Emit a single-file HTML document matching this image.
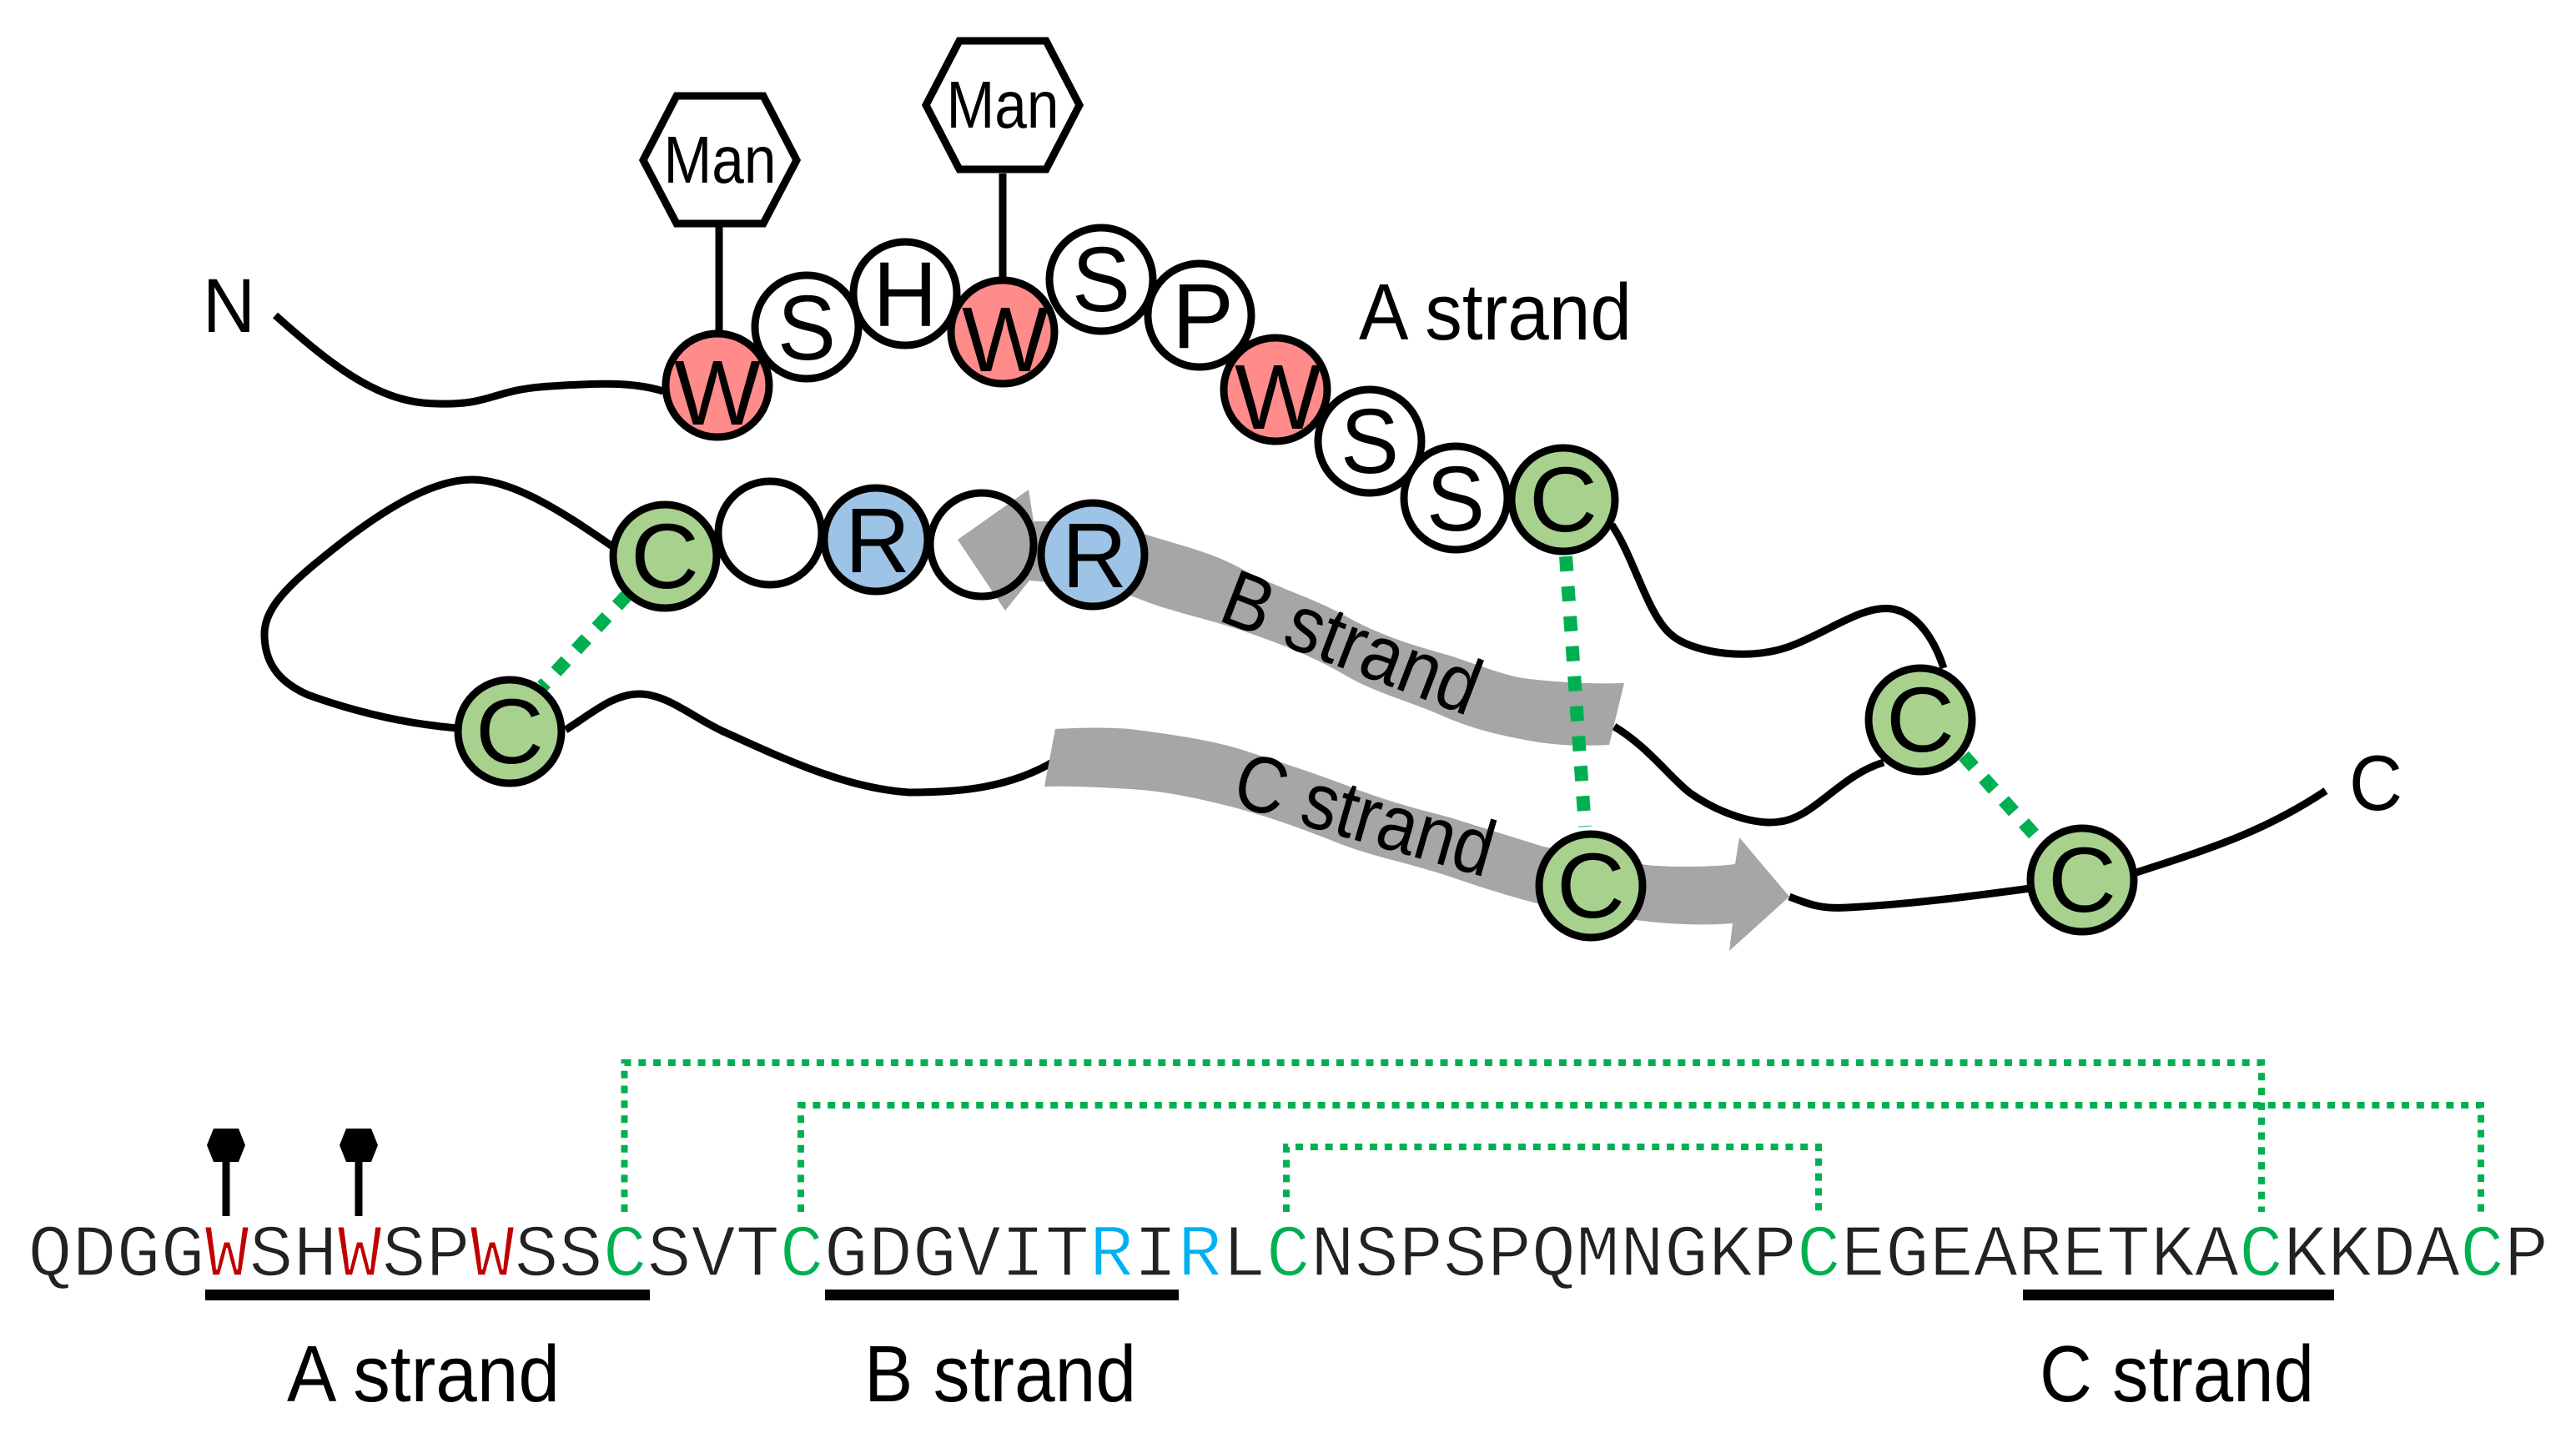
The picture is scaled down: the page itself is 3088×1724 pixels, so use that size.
<!DOCTYPE html>
<html><head><meta charset="utf-8"><style>
html,body{margin:0;padding:0;background:#fff}
svg{display:block}
text{font-family:"Liberation Sans",Arial,sans-serif;fill:#000}
.l{font-size:110px;text-anchor:middle}
.t{font-size:96px}
.seq{font-family:"Liberation Mono","Courier New",monospace;font-size:88.33px;fill:#222;stroke:#fff;stroke-width:1.6px}
</style></head><body>
<svg width="3088" height="1724" viewBox="0 0 3088 1724" xmlns="http://www.w3.org/2000/svg">
<rect width="3088" height="1724" fill="#fff"/>
<!-- backbone -->
<g fill="none" stroke="#000" stroke-width="9">
<path d="M330 378 C400 440 455 484 525 484 C590 486 590 467 660 463 C720 459 760 458 795 469"/>
<path d="M734 655 C690 625 620 575 566 575 C510 575 440 625 385 670 C335 710 317 735 317 760 C317 800 340 820 369 833 C430 855 490 868 548 873"/>
<path d="M678 875 C710 855 735 832 766 832 C800 832 830 860 867 877 C930 905 1010 945 1090 950 C1150 950 1210 945 1265 912"/>
<path d="M1932 629 C1960 670 1975 740 2006 763 C2030 782 2100 795 2153 772 C2195 755 2235 725 2268 730 C2300 735 2320 770 2330 801"/>
<path d="M1935 871 C1975 895 2000 930 2025 950 C2060 975 2105 990 2134 985 C2175 980 2205 930 2258 914"/>
<path d="M2145 1075 C2170 1085 2185 1090 2215 1088 C2290 1084 2360 1075 2434 1065"/>
<path d="M2561 1046 C2640 1020 2710 1000 2788 948"/>
</g>
<!-- stems and hexagons -->
<g fill="#fff" stroke="#000" stroke-width="9">
<path d="M862 272V400" fill="none"/>
<path d="M1202 208V340" fill="none"/>
<polygon points="771,192 811,115 915,115 955,192 915,268 811,268"/>
<polygon points="1110,126 1150,49 1254,49 1294,126 1254,203 1150,203"/>
</g>
<text x="863" y="219" font-size="80" text-anchor="middle" textLength="135" lengthAdjust="spacingAndGlyphs">Man</text>
<text x="1202" y="153" font-size="80" text-anchor="middle" textLength="135" lengthAdjust="spacingAndGlyphs">Man</text>
<!-- blank circle under arrow -->
<circle cx="1177" cy="653" r="62" fill="#fff"/>
<!-- strands -->
<path fill="#a6a6a6" d="M1148 647 L1233 587 L1239 625 C1290 625 1330 625 1374 641 C1420 655 1450 662 1483 679 C1530 705 1570 715 1610 737 C1660 765 1700 775 1738 786 C1780 800 1810 812 1833 814 C1880 819 1910 820 1947 819 L1929 893 C1890 895 1860 893 1833 888 C1800 882 1770 875 1738 862 C1690 840 1650 832 1610 808 C1570 785 1530 770 1483 754 C1440 740 1400 732 1368 719 C1320 700 1280 700 1234 696 L1205 732 Z"/>
<path fill="#a6a6a6" d="M1265 874 C1300 872 1330 872 1355 874 C1400 880 1440 885 1483 897 C1530 912 1570 925 1610 940 C1660 960 1700 970 1738 980 L1850 1015 L1967 1036 C1990 1040 2050 1040 2080 1036 L2085 1004 L2145 1075 L2073 1140 L2077 1107 C2040 1110 2000 1108 1961 1103 L1850 1085 C1810 1075 1770 1062 1738 1051 C1690 1035 1650 1028 1610 1013 C1570 997 1530 982 1483 969 C1430 955 1390 948 1355 946 C1320 944 1285 942 1252 943 Z"/>
<!-- disulfide dotted -->
<g fill="none" stroke="#00b050" stroke-width="16" stroke-dasharray="18 18">
<path d="M1877 667 L1900 991"/>
<path d="M752 713 L650 823"/>
<path d="M2354 906 L2439 1001"/>
</g>
<!-- residues -->
<g stroke="#000" stroke-width="9">
<circle cx="967" cy="392" r="62" fill="#fff"/>
<circle cx="1085" cy="352" r="62" fill="#fff"/>
<circle cx="860" cy="462" r="62" fill="#ff8b8b"/>
<circle cx="1320" cy="335" r="62" fill="#fff"/>
<circle cx="1202" cy="398" r="62" fill="#ff8b8b"/>
<circle cx="1438" cy="378" r="62" fill="#fff"/>
<circle cx="1642" cy="529" r="62" fill="#fff"/>
<circle cx="1529" cy="467" r="62" fill="#ff8b8b"/>
<circle cx="1745" cy="597" r="62" fill="#fff"/>
<circle cx="1874" cy="599" r="62" fill="#a9d18e"/>
<circle cx="923" cy="639" r="62" fill="#fff"/>
<circle cx="797" cy="667" r="62" fill="#a9d18e"/>
<circle cx="1050" cy="647" r="62" fill="#9dc3e6"/>
<circle cx="1177" cy="653" r="62" fill="none"/>
<circle cx="1310" cy="665" r="62" fill="#9dc3e6"/>
<circle cx="611" cy="877" r="62" fill="#a9d18e"/>
<circle cx="2302" cy="863" r="62" fill="#a9d18e"/>
<circle cx="1907" cy="1062" r="62" fill="#a9d18e"/>
<circle cx="2496" cy="1055" r="62" fill="#a9d18e"/>
</g>
<g class="letters">
<text class="l" x="860" y="509" textLength="104" lengthAdjust="spacingAndGlyphs">W</text>
<text class="l" x="967" y="431" textLength="70" lengthAdjust="spacingAndGlyphs">S</text>
<text class="l" x="1085" y="391" textLength="77" lengthAdjust="spacingAndGlyphs">H</text>
<text class="l" x="1205" y="445" textLength="104" lengthAdjust="spacingAndGlyphs">W</text>
<text class="l" x="1320" y="373" textLength="70" lengthAdjust="spacingAndGlyphs">S</text>
<text class="l" x="1442" y="417" textLength="74" lengthAdjust="spacingAndGlyphs">P</text>
<text class="l" x="1532" y="514" textLength="104" lengthAdjust="spacingAndGlyphs">W</text>
<text class="l" x="1642" y="567" textLength="70" lengthAdjust="spacingAndGlyphs">S</text>
<text class="l" x="1745" y="636" textLength="70" lengthAdjust="spacingAndGlyphs">S</text>
<text class="l" x="1874" y="637" textLength="82" lengthAdjust="spacingAndGlyphs">C</text>
<text class="l" x="797" y="705" textLength="82" lengthAdjust="spacingAndGlyphs">C</text>
<text class="l" x="1052" y="686" textLength="78" lengthAdjust="spacingAndGlyphs">R</text>
<text class="l" x="1312" y="704" textLength="78" lengthAdjust="spacingAndGlyphs">R</text>
<text class="l" x="611" y="915" textLength="82" lengthAdjust="spacingAndGlyphs">C</text>
<text class="l" x="2302" y="901" textLength="82" lengthAdjust="spacingAndGlyphs">C</text>
<text class="l" x="1907" y="1100" textLength="82" lengthAdjust="spacingAndGlyphs">C</text>
<text class="l" x="2496" y="1093" textLength="82" lengthAdjust="spacingAndGlyphs">C</text>
</g>
<!-- labels -->
<text x="243" y="398" font-size="92" textLength="63" lengthAdjust="spacingAndGlyphs">N</text>
<text x="2816" y="971" font-size="94" textLength="64" lengthAdjust="spacingAndGlyphs">C</text>
<text class="t" x="1629" y="407" textLength="327" lengthAdjust="spacingAndGlyphs">A strand</text>
<text class="t" transform="translate(1458 743) rotate(21)" textLength="323" lengthAdjust="spacingAndGlyphs">B strand</text>
<text class="t" transform="translate(1474 964) rotate(16)" textLength="319" lengthAdjust="spacingAndGlyphs">C strand</text>
<text class="t" x="344" y="1680" textLength="327" lengthAdjust="spacingAndGlyphs">A strand</text>
<text class="t" x="1036" y="1680" textLength="326" lengthAdjust="spacingAndGlyphs">B strand</text>
<text class="t" x="2445" y="1680" textLength="329" lengthAdjust="spacingAndGlyphs">C strand</text>
<!-- sequence section -->
<g fill="none" stroke="#00b050" stroke-width="8" stroke-dasharray="9 8.8">
<path d="M748.5 1453V1274H2711V1453"/>
<path d="M960 1453V1325H2974V1453"/>
<path d="M1542 1453V1375H2180V1453"/>
</g>
<g fill="#000">
<polygon points="248,1373 256,1353 286,1353 294,1373 286,1393 256,1393"/>
<polygon points="407,1373 415,1353 445,1353 453,1373 445,1393 415,1393"/>
<rect x="266.500" y="1390" width="9" height="68"/>
<rect x="425.500" y="1390" width="9" height="68"/>
<rect x="246" y="1546" width="533" height="13"/>
<rect x="989" y="1546" width="424" height="13"/>
<rect x="2425" y="1546" width="373" height="13"/>
</g>
<text class="seq" x="33.500" y="1529">QDGG<tspan fill="#c00000">W</tspan>SH<tspan fill="#c00000">W</tspan>SP<tspan fill="#c00000">W</tspan>SS<tspan fill="#00b050">C</tspan>SVT<tspan fill="#00b050">C</tspan>GDGVIT<tspan fill="#00b0f0">R</tspan>I<tspan fill="#00b0f0">R</tspan>L<tspan fill="#00b050">C</tspan>NSPSPQMNGKP<tspan fill="#00b050">C</tspan>EGEARETKA<tspan fill="#00b050">C</tspan>KKDA<tspan fill="#00b050">C</tspan>P</text>
</svg>
</body></html>
